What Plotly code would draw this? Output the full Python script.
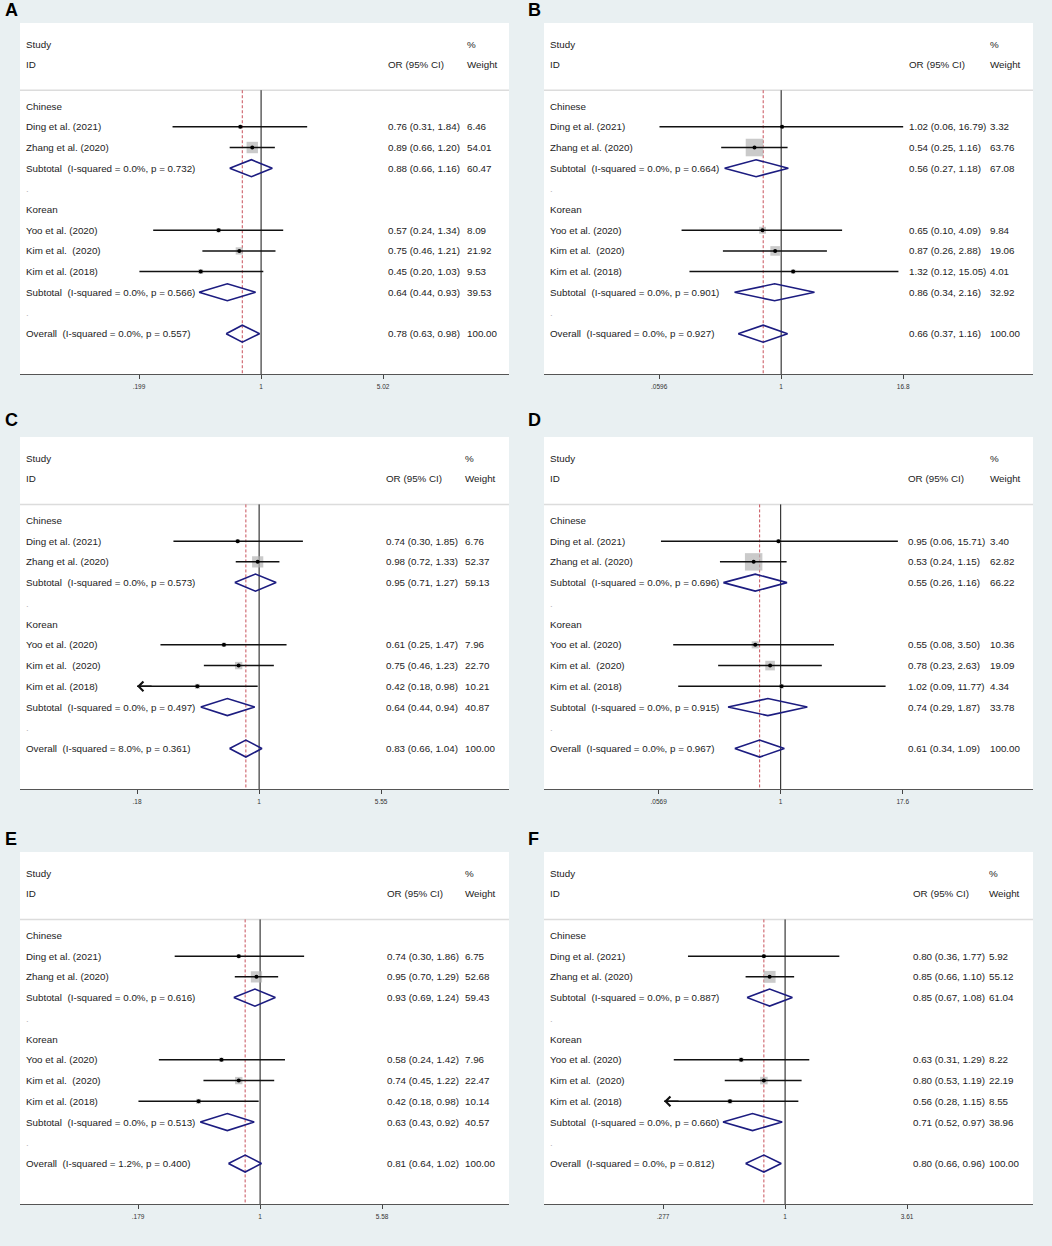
import math

import plotly.graph_objects as go


PANELS = ["A", "B", "C", "D", "E", "F"]
GROUPS = ["Chinese", "Korean"]
STUDIES = [
    "Ding et al. (2021)",
    "Zhang et al. (2020)",
    "Yoo et al. (2020)",
    "Kim et al.\u00a0 (2020)",
    "Kim et al. (2018)",
]
STUDY_GROUP = [0, 0, 1, 1, 1]

STUDY_OR = [
    [0.76, 0.89, 0.57, 0.75, 0.45],
    [1.02, 0.54, 0.65, 0.87, 1.32],
    [0.74, 0.98, 0.61, 0.75, 0.42],
    [0.95, 0.53, 0.55, 0.78, 1.02],
    [0.74, 0.95, 0.58, 0.74, 0.42],
    [0.80, 0.85, 0.63, 0.80, 0.56],
]
STUDY_LO = [
    [0.31, 0.66, 0.24, 0.46, 0.20],
    [0.06, 0.25, 0.10, 0.26, 0.12],
    [0.30, 0.72, 0.25, 0.46, 0.18],
    [0.06, 0.24, 0.08, 0.23, 0.09],
    [0.30, 0.70, 0.24, 0.45, 0.18],
    [0.36, 0.66, 0.31, 0.53, 0.28],
]
STUDY_HI = [
    [1.84, 1.20, 1.34, 1.21, 1.03],
    [16.79, 1.16, 4.09, 2.88, 15.05],
    [1.85, 1.33, 1.47, 1.23, 0.98],
    [15.71, 1.15, 3.50, 2.63, 11.77],
    [1.86, 1.29, 1.42, 1.22, 0.98],
    [1.77, 1.10, 1.29, 1.19, 1.15],
]
STUDY_WT = [
    [6.46, 54.01, 8.09, 21.92, 9.53],
    [3.32, 63.76, 9.84, 19.06, 4.01],
    [6.76, 52.37, 7.96, 22.70, 10.21],
    [3.40, 62.82, 10.36, 19.09, 4.34],
    [6.75, 52.68, 7.96, 22.47, 10.14],
    [5.92, 55.12, 8.22, 22.19, 8.55],
]

SUB_OR = [[0.88, 0.64], [0.56, 0.86], [0.95, 0.64], [0.55, 0.74], [0.93, 0.63], [0.85, 0.71]]
SUB_LO = [[0.66, 0.44], [0.27, 0.34], [0.71, 0.44], [0.26, 0.29], [0.69, 0.43], [0.67, 0.52]]
SUB_HI = [[1.16, 0.93], [1.18, 2.16], [1.27, 0.94], [1.16, 1.87], [1.24, 0.92], [1.08, 0.97]]
SUB_WT = [[60.47, 39.53], [67.08, 32.92], [59.13, 40.87], [66.22, 33.78], [59.43, 40.57], [61.04, 38.96]]
SUB_I2 = [["0.0%", "0.0%"]] * 6
SUB_P = [
    ["0.732", "0.566"],
    ["0.664", "0.901"],
    ["0.573", "0.497"],
    ["0.696", "0.915"],
    ["0.616", "0.513"],
    ["0.887", "0.660"],
]

ALL_OR = [0.78, 0.66, 0.83, 0.61, 0.81, 0.80]
ALL_LO = [0.63, 0.37, 0.66, 0.34, 0.64, 0.66]
ALL_HI = [0.98, 1.16, 1.04, 1.09, 1.02, 0.96]
ALL_I2 = ["0.0%", "0.0%", "8.0%", "0.0%", "1.2%", "0.0%"]
ALL_P = ["0.557", "0.927", "0.361", "0.967", "0.400", "0.812"]

TICK_LO = [0.199, 0.0596, 0.18, 0.0569, 0.179, 0.277]
TICK_HI = [5.02, 16.8, 5.55, 17.6, 5.58, 3.61]

# styling / layout (pixels of the 1052x1246 page)
W, H = 1052, 1246
COL_X = [(20, 509), (544, 1033)]
ROW_Y = [(23, 374), (437, 789), (852, 1204)]
LETTER_Y = [10, 420, 839]
LETTER_X = [3, 526]
ONE_FRAC = [0.493, 0.485, 0.489, 0.484, 0.491, 0.493]
LABEL_FRAC = 0.008
OR_FRAC = [0.749, 0.742, 0.745, 0.741, 0.746, 0.750]
WT_FRAC = [0.909, 0.908, 0.905, 0.908, 0.905, 0.906]
BOX_SCALE = [1.55, 2.2, 1.55, 2.2, 1.55, 1.6]
ARROWS = [(2, 4), (5, 4)]
Y_TOP, Y_BOT, SEP_Y = -4.02, 12.95, -0.77

FONT = "Liberation Sans, Arial, sans-serif"
TXT = "#1c1c1c"
BG = "#e9f0f2"
NAVY = "#1c1c80"


def stata_num(v):
    s = f"{v:g}"
    return s[1:] if s.startswith("0.") else s


def main() -> None:
    fig = go.Figure()
    annotations = []
    shapes = []

    for p, letter in enumerate(PANELS):
        col, row = p % 2, p // 2
        n = "" if p == 0 else str(p + 1)
        xref, yref = f"x{n}", f"y{n}"
        xd = f"x{n} domain"

        # row positions
        rows_label = []
        study_rows = [0] * len(STUDIES)
        sub_rows = []
        r = 0
        for g, gname in enumerate(GROUPS):
            rows_label.append((r, gname, TXT))
            r += 1
            for i, s in enumerate(STUDIES):
                if STUDY_GROUP[i] == g:
                    study_rows[i] = r
                    rows_label.append((r, s, TXT))
                    r += 1
            sub_rows.append(r)
            rows_label.append(
                (r, f"Subtotal\u00a0 (I-squared = {SUB_I2[p][g]}, p = {SUB_P[p][g]})", TXT)
            )
            r += 1
            rows_label.append((r, ".", "#b8b8b8"))
            r += 1
        all_row = r
        rows_label.append((r, f"Overall\u00a0 (I-squared = {ALL_I2[p]}, p = {ALL_P[p]})", TXT))

        # reference lines
        fig.add_trace(go.Scatter(
            x=[1, 1], y=[SEP_Y, Y_BOT], mode="lines", xaxis=xref, yaxis=yref,
            line=dict(color="#111111", width=1), hoverinfo="skip",
        ))
        fig.add_trace(go.Scatter(
            x=[ALL_OR[p], ALL_OR[p]], y=[SEP_Y, Y_BOT], mode="lines", xaxis=xref, yaxis=yref,
            line=dict(color="#c8505a", width=1, dash="3px,2px"), hoverinfo="skip",
        ))

        # weight boxes
        fig.add_trace(go.Scatter(
            x=STUDY_OR[p], y=study_rows, mode="markers", xaxis=xref, yaxis=yref,
            marker=dict(symbol="square", color="#b3b3b3",
                        size=[BOX_SCALE[p] * math.sqrt(w) for w in STUDY_WT[p]],
                        line=dict(width=0)),
            hoverinfo="skip",
        ))

        # CI lines
        cx, cy = [], []
        for i in range(len(STUDIES)):
            cx += [STUDY_LO[p][i], STUDY_HI[p][i], None]
            cy += [study_rows[i], study_rows[i], None]
        fig.add_trace(go.Scatter(
            x=cx, y=cy, mode="lines", xaxis=xref, yaxis=yref,
            line=dict(color="#111111", width=1.5), hoverinfo="skip",
        ))
        fig.add_trace(go.Scatter(
            x=STUDY_OR[p], y=study_rows, mode="markers", xaxis=xref, yaxis=yref,
            marker=dict(symbol="circle", color="#000000", size=4), hoverinfo="skip",
        ))

        # diamonds
        dx, dy = [], []
        h = 0.41
        for est, lo, hi, yy in [(SUB_OR[p][g], SUB_LO[p][g], SUB_HI[p][g], sub_rows[g]) for g in range(2)] + [
            (ALL_OR[p], ALL_LO[p], ALL_HI[p], all_row)
        ]:
            dx += [lo, est, hi, est, lo, None]
            dy += [yy, yy - h, yy, yy + h, yy, None]
        fig.add_trace(go.Scatter(
            x=dx, y=dy, mode="lines", xaxis=xref, yaxis=yref,
            line=dict(color=NAVY, width=1.6), hoverinfo="skip",
        ))

        for pi, si in ARROWS:
            if pi == p:
                annotations.append(dict(
                    x=math.log10(STUDY_LO[p][si]), y=study_rows[si], xref=xref, yref=yref,
                    text="", showarrow=True, ax=16, ay=0, arrowhead=4, arrowsize=1.25,
                    arrowwidth=1.5, arrowcolor="#111111", standoff=0,
                ))

        # text columns
        def txt(x, y, s, color=TXT, size=9.8):
            annotations.append(dict(
                x=x, y=y, xref=xd, yref=yref, text=s, showarrow=False,
                xanchor="left", yanchor="middle", font=dict(family=FONT, size=size, color=color),
            ))

        lx, ox, wx = LABEL_FRAC, OR_FRAC[p], WT_FRAC[p]
        txt(lx, -3, "Study")
        txt(lx, -2, "ID")
        txt(ox, -2, "OR (95% CI)")
        txt(wx, -3, "%")
        txt(wx, -2, "Weight")
        for yy, s, c in rows_label:
            txt(lx, yy, s, c)
        for i in range(len(STUDIES)):
            txt(ox, study_rows[i],
                f"{STUDY_OR[p][i]:.2f} ({STUDY_LO[p][i]:.2f}, {STUDY_HI[p][i]:.2f})")
            txt(wx, study_rows[i], f"{STUDY_WT[p][i]:.2f}")
        for g in range(2):
            txt(ox, sub_rows[g], f"{SUB_OR[p][g]:.2f} ({SUB_LO[p][g]:.2f}, {SUB_HI[p][g]:.2f})")
            txt(wx, sub_rows[g], f"{SUB_WT[p][g]:.2f}")
        txt(ox, all_row, f"{ALL_OR[p]:.2f} ({ALL_LO[p]:.2f}, {ALL_HI[p]:.2f})")
        txt(wx, all_row, "100.00")

        shapes.append(dict(
            type="line", xref=xd, yref=yref, x0=0, x1=1, y0=SEP_Y, y1=SEP_Y,
            line=dict(color="#dcdcdc", width=1.5), layer="below",
        ))

        # panel letter
        annotations.append(dict(
            x=LETTER_X[col] / W, y=1 - LETTER_Y[row] / H, xref="paper", yref="paper",
            text=f"<b>{letter}</b>", showarrow=False, xanchor="left", yanchor="middle",
            font=dict(family=FONT, size=18, color="#000000"),
        ))

        # axes
        u = (math.log10(TICK_HI[p]) - math.log10(TICK_LO[p])) / 2
        span = 0.2495
        xr = [-u * ONE_FRAC[p] / span, u * (1 - ONE_FRAC[p]) / span]
        x0, x1 = COL_X[col]
        y0, y1 = ROW_Y[row]
        fig.layout[f"xaxis{n}"] = dict(
            type="log", range=xr, domain=[x0 / W, x1 / W], anchor=yref,
            tickvals=[TICK_LO[p], 1, TICK_HI[p]],
            ticktext=[stata_num(TICK_LO[p]), "1", stata_num(TICK_HI[p])],
            ticks="outside", ticklen=4, tickwidth=1, tickcolor="#444444",
            showline=True, linecolor="#555555", linewidth=1.2,
            showgrid=False, zeroline=False, fixedrange=True,
            tickfont=dict(family=FONT, size=6.5, color="#333333"), ticklabelstandoff=2,
        )
        fig.layout[f"yaxis{n}"] = dict(
            range=[Y_BOT, Y_TOP], domain=[1 - y1 / H, 1 - y0 / H], anchor=xref,
            visible=False, showgrid=False, zeroline=False, fixedrange=True,
        )

    fig.update_layout(
        width=W, height=H, margin=dict(l=0, r=0, t=0, b=0),
        paper_bgcolor=BG, plot_bgcolor="#ffffff", showlegend=False,
        annotations=annotations, shapes=shapes, hovermode=False,
        font=dict(family=FONT, color=TXT),
    )
    # page body has a default 8px margin; remove it so the figure sits at 0,0
    fig.write_html(
        "out.html",
        config={"displayModeBar": False},
        post_script="document.body.style.margin='0';",
    )


if __name__ == "__main__":
    main()
